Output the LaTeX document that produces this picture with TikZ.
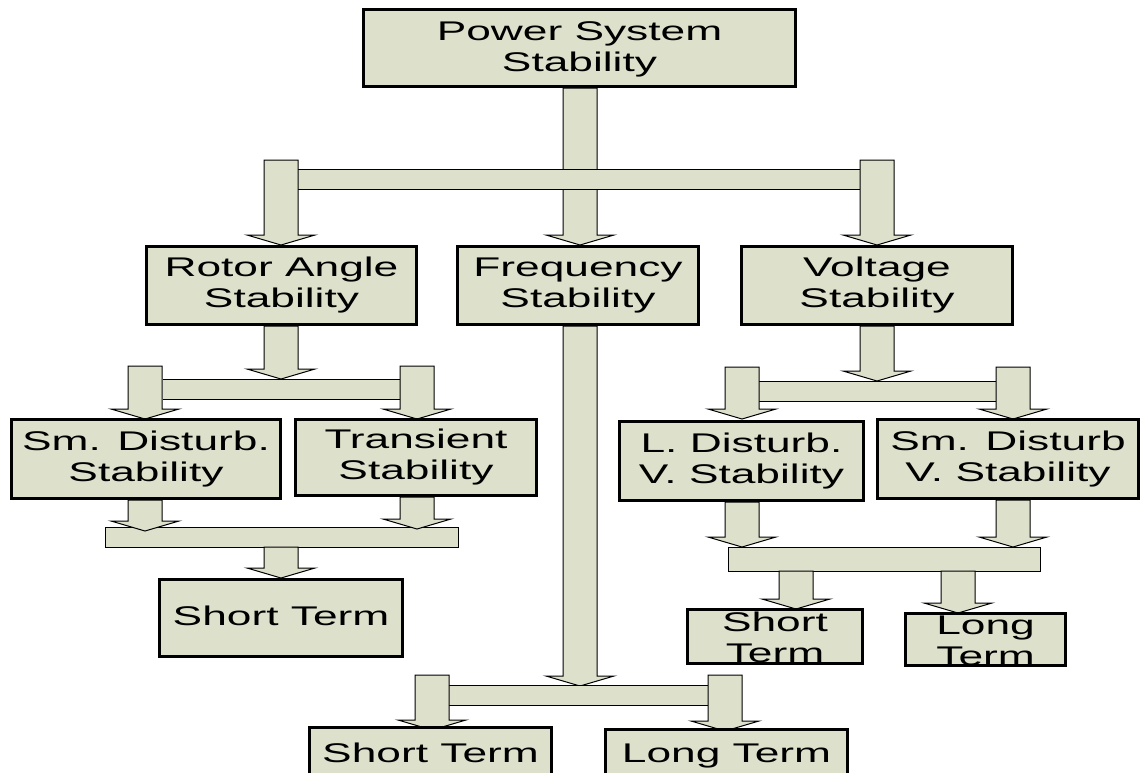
\documentclass[tikz,border=0pt]{standalone}
\usepackage{fontspec}
\setmainfont[FakeStretch=1.64]{Liberation Sans}
\definecolor{boxfill}{RGB}{221,224,203}
\tikzset{
  box/.style={draw=black, line width=3pt, fill=boxfill, align=center, inner sep=0pt,
    font=\fontsize{27}{31}\selectfont},
  txt/.style={align=center, inner sep=0pt, font=\fontsize{27}{31}\selectfont},
  arr/.style={draw=black, line width=1pt, fill=boxfill, line join=miter},
  barfill/.style={fill=boxfill},
  barline/.style={draw=black, line width=1pt}
}
\newcommand\barrow[3]{%
  \filldraw[arr] ({#1-17},#2) -- ({#1+17},#2) -- ({#1+17},{#3-10}) -- ({#1+34},{#3-10})
    -- (#1,#3) -- ({#1-34},{#3-10}) -- ({#1-17},{#3-10}) -- cycle;}
\newcommand\openbar[3]{% x1 x2 ytop (height 20)
  \fill[barfill] (#1,#3) rectangle (#2,{#3+20});
  \draw[barline] (#1,#3) -- (#2,#3) (#1,{#3+20}) -- (#2,{#3+20});}
\begin{document}
\begin{tikzpicture}[x=1pt,y=-1pt]
\useasboundingbox (0,0) rectangle (1142,772);
% block arrows and bars
\barrow{580}{88}{245}
\openbar{298}{860}{169}
\barrow{281}{160}{245}
\barrow{877}{160}{245}

\barrow{281}{326}{379}
\openbar{163}{400}{379}
\barrow{145}{366}{419}
\barrow{417}{366}{419}

\filldraw[arr] (105,527) rectangle (458,547);
\barrow{145}{500}{531}
\barrow{417}{497}{529}
\barrow{281}{547}{578}

\barrow{580}{326}{686}
\openbar{449}{708}{685}
\barrow{432}{675}{730}
\barrow{725}{675}{731}

\barrow{877}{326}{381}
\openbar{759}{996}{381}
\barrow{742}{367}{419}
\barrow{1013}{367}{419}

\barrow{742}{502}{547}
\barrow{1013}{500}{547}
\filldraw[arr] (728,547) rectangle (1040,571);
\barrow{796}{571}{609}
\barrow{958}{571}{613}

% boxes
\node[box, minimum width=432pt, minimum height=77pt] (pss) at (579.5,48) {};
\node[txt] at ([yshift=-1.5pt]pss.center) {Power System\\Stability};
\node[box, minimum width=270pt, minimum height=78pt] (rot) at (281.5,285.5) {Rotor Angle\\Stability};
\node[box, minimum width=241pt, minimum height=78pt] (freq) at (578,285.5) {Frequency\\Stability};
\node[box, minimum width=271pt, minimum height=78pt] (volt) at (877,285.5) {Voltage\\Stability};
\node[box, minimum width=269pt, minimum height=79pt] (smd) at (146,459) {Sm. Disturb.\\Stability};
\node[box, minimum width=241pt, minimum height=76pt] (tra) at (416,457.5) {Transient\\Stability};
\node[box, minimum width=244pt, minimum height=79pt] (ldv) at (741.5,461) {L. Disturb.\\V. Stability};
\node[box, minimum width=261pt, minimum height=79pt] (smv) at (1008,459) {Sm. Disturb\\V. Stability};
\node[box, minimum width=243pt, minimum height=77pt] (st1) at (281,618) {};
\node[txt, anchor=base] at (281,625) {Short Term};
\node[box, minimum width=175pt, minimum height=54pt] (st2) at (775,636.5) {};
\node[txt] at ([yshift=-1pt]st2.center) {Short\\Term};
\node[box, minimum width=160pt, minimum height=52pt] (lt2) at (985.5,639.5) {};
\node[txt] at ([yshift=-1pt]lt2.center) {Long\\Term};
\node[box, minimum width=242pt, minimum height=60pt] (st3) at (430.5,757.5) {};
\node[txt, anchor=base] at (430.5,762) {Short Term};
\node[box, minimum width=242pt, minimum height=60pt] (lt3) at (726.5,759.5) {};
\node[txt, anchor=base] at (726.5,762) {Long Term};
\end{tikzpicture}
\end{document}
